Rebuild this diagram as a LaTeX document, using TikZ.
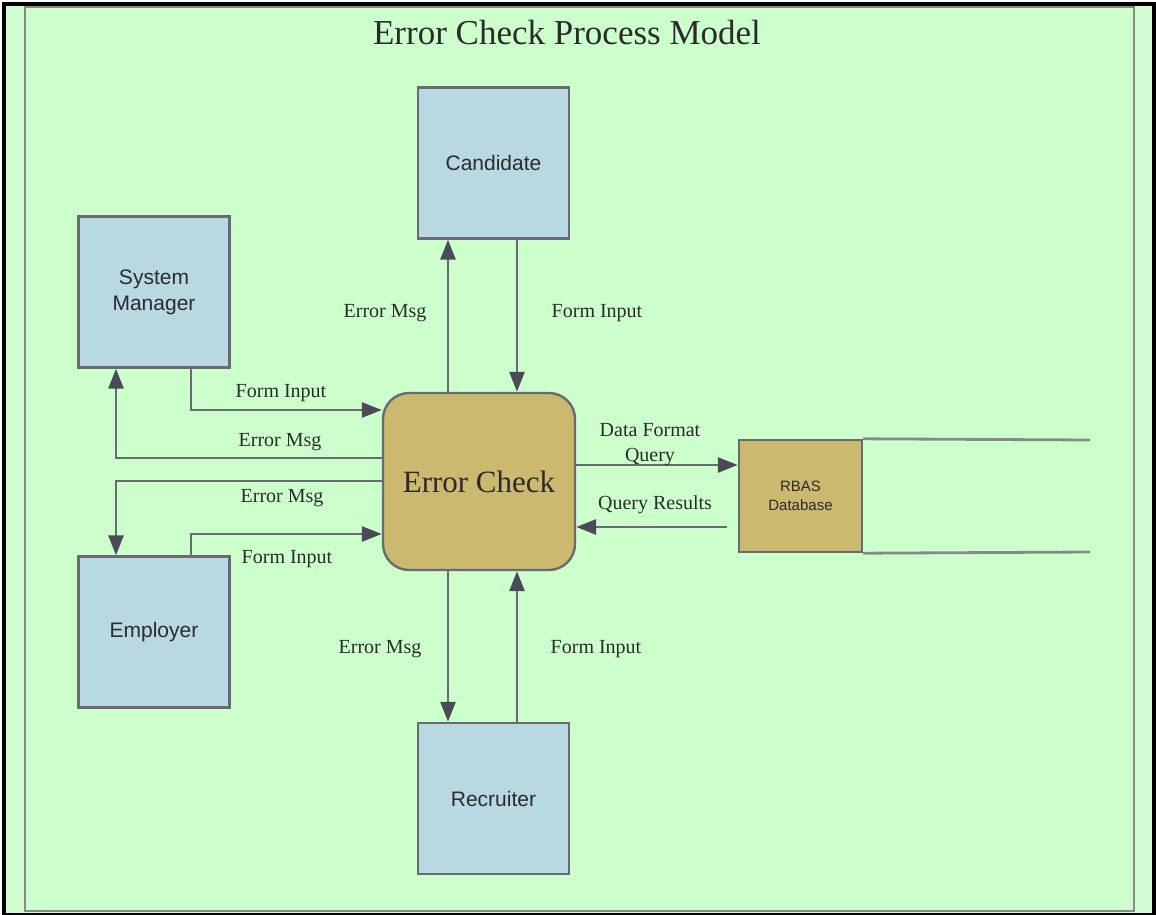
\documentclass[tikz,border=0pt]{standalone}
\usepackage{fontspec}
\setmainfont{Liberation Serif}
\newfontfamily\arialf{Liberation Sans}
\usetikzlibrary{arrows.meta}
\definecolor{panelgreen}{HTML}{CCFFCC}
\definecolor{stripgreen}{HTML}{D3FCD3}
\definecolor{panelline}{HTML}{888888}
\definecolor{boxblue}{HTML}{B8D9E2}
\definecolor{boxgold}{HTML}{CAB96E}
\definecolor{edgegray}{HTML}{6A6A72}
\definecolor{tipgray}{HTML}{4A4A58}
\definecolor{txt}{HTML}{2B2B2B}
\begin{document}
\begin{tikzpicture}[x=1pt,y=-1pt,
  actor/.style={draw=edgegray, line width=2.4pt, fill=boxblue,
    minimum width=151pt, minimum height=151pt, inner sep=0pt,
    font=\arialf\fontsize{21}{26}\selectfont, text=txt, align=center},
  proc/.style={draw=edgegray, line width=2.4pt, fill=boxgold,
    rounded corners=26pt, minimum width=192pt, minimum height=177pt,
    inner sep=0pt, font=\fontsize{31}{36}\selectfont, text=txt},
  store/.style={draw=edgegray, line width=2.4pt, fill=boxgold,
    minimum width=123pt, minimum height=112pt, inner sep=0pt,
    font=\arialf\fontsize{15}{18.5}\selectfont, text=txt, align=center},
  flow/.style={draw=edgegray, line width=2.8pt,
    -{Triangle[length=20pt,width=15pt,color=tipgray]}},
  lbl/.style={font=\fontsize{20}{25}\selectfont, text=txt, anchor=base,
    inner sep=0pt, align=center},
  storeline/.style={draw=panelline, line width=2.8pt}
]
\useasboundingbox (0,0) rectangle (1156,915);
% frame
\fill[white] (0,0) rectangle (1156,915);
\fill[black] (2,2) rectangle (1156,915);
\fill[stripgreen] (6,6) rectangle (1152,913);
\draw[panelline, line width=2pt, fill=panelgreen] (25,7) rectangle (1134,911);

% title
\node[lbl, font=\fontsize{35}{40}\selectfont] (title) at (567,45) {Error Check Process Model};

% nodes
\node[actor] (cand) at (493.5,163) {Candidate};
\node[actor] (sm)   at (154,292) {System\\Manager};
\node[actor] (emp)  at (154,632) {Employer};
\node[actor] (rec)  at (493.5,798.5) {Recruiter};
\node[proc]  (ec)   at (479,481.5) {Error Check};
\node[store] (rbas) at (800.5,496) {RBAS\\Database};

% data store open lines
\coordinate (dsT) at (1090,440);
\coordinate (dsB) at (1090,552);
\draw[storeline] (rbas.north east) -- (dsT);
\draw[storeline] (rbas.south east) -- (dsB);

% helper coordinates
\coordinate (xA) at (448,0);
\coordinate (xB) at (517,0);
\coordinate (xC) at (191,0);
\coordinate (xD) at (116,0);
\coordinate (yA) at (0,410);
\coordinate (yB) at (0,458);
\coordinate (yC) at (0,481);
\coordinate (yD) at (0,534);
\coordinate (yE) at (0,465);
\coordinate (qrs) at (727,527);

% connectors
\draw[flow] (ec.north -| xA) -- (cand.south -| xA);
\draw[flow] (cand.south -| xB) -- (ec.north -| xB);
\draw[flow] (sm.south -| xC) |- (ec.west |- yA);
\draw[flow] (ec.west |- yB) -| (sm.south -| xD);
\draw[flow] (ec.west |- yC) -| (emp.north -| xD);
\draw[flow] (emp.north -| xC) |- (ec.west |- yD);
\draw[flow] (ec.south -| xA) -- (rec.north -| xA);
\draw[flow] (rec.north -| xB) -- (ec.south -| xB);
\draw[flow] (ec.east |- yE) -- (rbas.west |- yE);
\draw[flow] (qrs) -- (ec.east |- qrs);

% labels
\node[lbl] (l1) at (385,317) {Error Msg};
\node[lbl] (l2) at (597,317) {Form Input};
\node[lbl] (l3) at (281,397) {Form Input};
\node[lbl] (l4) at (280,446) {Error Msg};
\node[lbl] (l5) at (282,502) {Error Msg};
\node[lbl] (l6) at (287,563) {Form Input};
\node[lbl] (l7) at (380,653) {Error Msg};
\node[lbl] (l8) at (596,653) {Form Input};
\node[lbl] (l9) at (650,461) {Data Format\\Query};
\node[lbl] (l10) at (655,509) {Query Results};
\end{tikzpicture}
\end{document}
